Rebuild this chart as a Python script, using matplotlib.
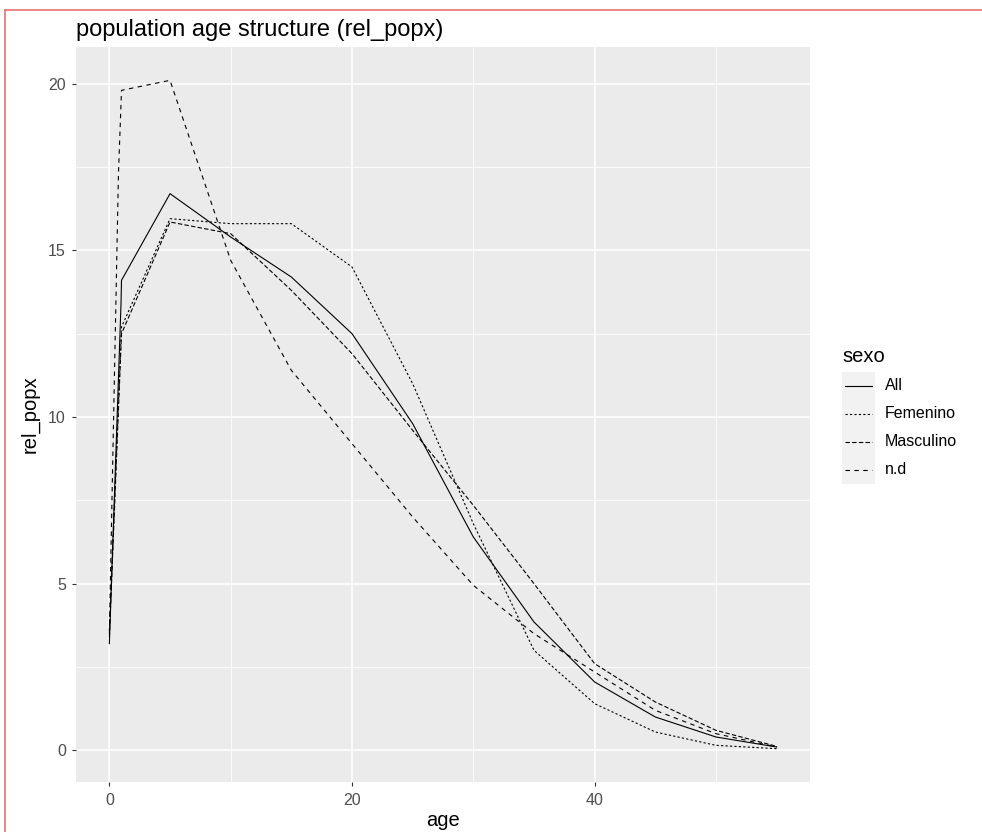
import numpy as np
import matplotlib
matplotlib.use("Agg")
import matplotlib.pyplot as plt
from matplotlib.lines import Line2D
from matplotlib.patches import Rectangle
from matplotlib.ticker import MultipleLocator

plt.rcParams['font.family'] = ['Liberation Sans', 'DejaVu Sans']

# relative population (%) by age, per sexo
age_all = [0, 0.96, 1, 5, 10, 15, 20, 25, 30, 35, 40, 45, 50, 55]
rel_all = [3.2, 13.4, 14.1, 16.7, 15.4, 14.2, 12.5, 9.8, 6.4, 3.85, 2.05, 1.0, 0.4, 0.1]

age_fem = [0, 1, 5, 10, 15, 20, 25, 30, 35, 40, 45, 50, 55]
rel_fem = [3.6, 12.7, 15.95, 15.8, 15.8, 14.5, 11.0, 6.8, 3.0, 1.4, 0.55, 0.15, 0.05]

age_masc = [0, 1, 5, 10, 15, 20, 25, 30, 35, 40, 45, 50, 55]
rel_masc = [3.4, 12.5, 15.85, 15.5, 13.8, 11.9, 9.6, 7.35, 5.0, 2.6, 1.45, 0.6, 0.12]

age_nd = [0, 0.35, 0.75, 1, 5, 10, 15, 20, 25, 30, 35, 40, 45, 50, 55]
rel_nd = [3.5, 10.0, 17.3, 19.8, 20.1, 14.7, 11.4, 9.2, 7.0, 4.95, 3.5, 2.35, 1.2, 0.5, 0.1]

series = [
    ("All", age_all, rel_all, "-"),
    ("Femenino", age_fem, rel_fem, (0, (2, 2))),
    ("Masculino", age_masc, rel_masc, (0, (4, 2))),
    ("n.d", age_nd, rel_nd, (0, (4, 4))),
]

W, H = 982, 832
fig = plt.figure(figsize=(W / 100, H / 100), dpi=100)
fig.patch.set_facecolor("white")


def fx(x):
    return x / W


def fy(y):
    return 1 - y / H


# panel in pixel coords: left 76, right 810, top 47, bottom 782
ax = fig.add_axes([fx(76), fy(782), fx(810) - fx(76), fy(47) - fy(782)])
ax.set_facecolor("#EBEBEB")
for s in ax.spines.values():
    s.set_visible(False)

lw = 0.8
for name, x, y, ls in series:
    ax.plot(x, y, color="black", lw=lw, linestyle=ls)

ax.set_xlim(-2.75, 57.75)
ax.set_ylim(-0.95, 21.1)
ax.xaxis.set_major_locator(MultipleLocator(20))
ax.xaxis.set_minor_locator(MultipleLocator(10))
ax.yaxis.set_major_locator(MultipleLocator(5))
ax.yaxis.set_minor_locator(MultipleLocator(2.5))
ax.grid(which="major", color="white", lw=1.1)
ax.grid(which="minor", color="white", lw=0.55)
ax.set_axisbelow(True)
ax.tick_params(which="major", length=3, width=0.8, color="#333333",
               labelcolor="#4D4D4D", labelsize=11.5)
ax.tick_params(axis="x", pad=5)
ax.tick_params(axis="y", pad=4.3)
ax.tick_params(which="minor", length=0)

fig.text(fx(443), fy(820), "age", fontsize=14.5, ha="center", va="center")
fig.text(fx(30), fy(414), "rel_popx", fontsize=14.5, ha="center", va="center",
         rotation=90)
fig.text(fx(76), fy(36), "population age structure (rel_popx)", fontsize=17,
         ha="left", va="baseline")

# legend drawn as ggplot-style keys
fig.text(fx(842), fy(357), "sexo", fontsize=14.5, va="center", ha="left")
row_y = [386, 414, 442, 470]
for (name, x, y, ls), ry in zip(series, row_y):
    fig.add_artist(Rectangle((fx(842), fy(ry + 14)), fx(33), fy(ry - 14) - fy(ry + 14),
                             transform=fig.transFigure, facecolor="#F2F2F2",
                             edgecolor="none"))
    fig.add_artist(Line2D([fx(845), fx(872)], [fy(ry), fy(ry)],
                          transform=fig.transFigure, color="black", lw=lw,
                          linestyle=ls))
    fig.text(fx(885), fy(ry), name, fontsize=11.5, va="center", ha="left",
             color="black")

# frame lines along the top and left edge
fig.add_artist(Line2D([fx(5), 1], [fy(9.5), fy(9.5)], transform=fig.transFigure,
                      color="#E57373", lw=1.2))
fig.add_artist(Line2D([fx(5), fx(5)], [fy(9.5), 0], transform=fig.transFigure,
                      color="#E57373", lw=1.2))

fig.savefig("out.png", dpi=100)
